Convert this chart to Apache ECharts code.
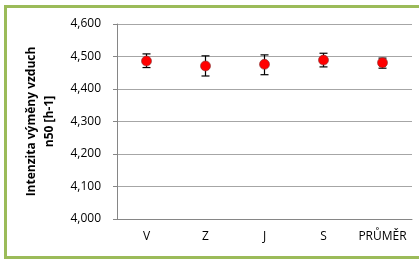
<!DOCTYPE html>
<html>
<head>
<meta charset="utf-8">
<script src="https://cdn.jsdelivr.net/npm/echarts@6/dist/echarts.min.js"></script>
<style>
  html, body { margin: 0; padding: 0; background: #fff; }
  #frame {
    position: absolute;
    left: 4px; top: 5px;
    width: 420px; height: 248px;
    border: 3px solid #9BBB59;
  }
  #chart { position: absolute; left: 0; top: 0; width: 419px; height: 262px; }
</style>
</head>
<body>
<div id="frame"></div>
<div id="chart"></div>
<script>
const categories = ['V', 'Z', 'J', 'S', 'PRŮMĚR']
const means = [4.486, 4.471, 4.476, 4.489, 4.481]
const lows = [4.466, 4.440, 4.444, 4.468, 4.464]
const highs = [4.508, 4.502, 4.505, 4.510, 4.495]
const yTicks = { min: 4.0, max: 4.6, step: 0.1 }

const chart = echarts.init(document.getElementById('chart'))

const fmt = v => v.toFixed(3).replace('.', ',')

const option = {
  animation: false,
  grid: { left: 117, right: 7, top: 24, bottom: 43 },
  xAxis: {
    type: 'category',
    data: categories,
    boundaryGap: true,
    axisLine: { lineStyle: { color: '#868686', width: 1 } },
    axisTick: { length: 4, lineStyle: { color: '#868686' } },
    axisLabel: { color: '#000', fontSize: 12, fontFamily: 'Open Sans', margin: 12, interval: 0 },
    splitLine: { show: false }
  },
  yAxis: {
    type: 'value',
    min: yTicks.min,
    max: yTicks.max,
    interval: yTicks.step,
    name: 'Intenzita výměny vzduch\nn50 [h-1]',
    nameLocation: 'middle',
    nameGap: 58,
    nameTextStyle: { color: '#000', fontSize: 12, fontWeight: 'bold', fontFamily: 'Open Sans', lineHeight: 18 },
    axisLine: { show: true, lineStyle: { color: '#868686', width: 1 } },
    axisTick: { show: true, length: 4, lineStyle: { color: '#868686' } },
    axisLabel: { color: '#000', fontSize: 12, fontFamily: 'Open Sans', margin: 16, formatter: fmt },
    splitLine: { lineStyle: { color: '#a6a6a6', width: 1 } }
  },
  series: [
    {
      type: 'custom',
      data: categories.map((c, i) => [i, lows[i], highs[i]]),
      renderItem: (params, api) => {
        const lo = api.coord([api.value(0), api.value(1)])
        const hi = api.coord([api.value(0), api.value(2)])
        const w = 4
        const style = { stroke: '#000', lineWidth: 1.2 }
        return {
          type: 'group',
          children: [
            { type: 'line', shape: { x1: hi[0], y1: hi[1], x2: lo[0], y2: lo[1] }, style },
            { type: 'line', shape: { x1: hi[0] - w, y1: hi[1], x2: hi[0] + w, y2: hi[1] }, style },
            { type: 'line', shape: { x1: lo[0] - w, y1: lo[1], x2: lo[0] + w, y2: lo[1] }, style }
          ]
        }
      },
      z: 2
    },
    {
      type: 'scatter',
      data: means,
      symbol: 'circle',
      symbolSize: 10,
      itemStyle: { color: '#FF0000', borderColor: '#7f3030', borderWidth: 0.6, opacity: 1 },
      z: 3
    }
  ]
}

chart.setOption(option)
</script>
</body>
</html>
